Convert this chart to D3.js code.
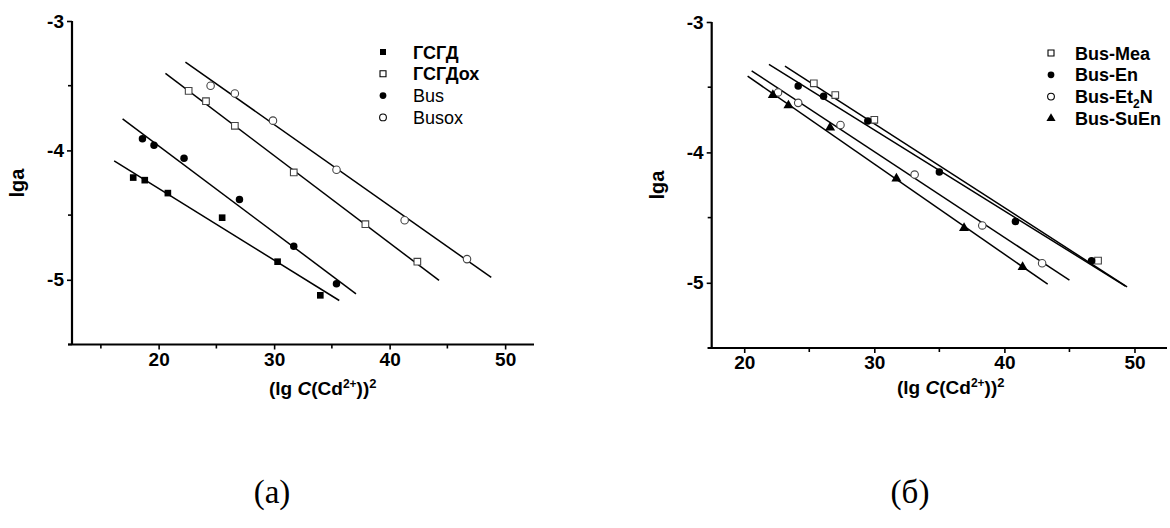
<!DOCTYPE html>
<html>
<head>
<meta charset="utf-8">
<script src="https://cdn.jsdelivr.net/npm/d3@7"></script>
<style>
  html, body { margin: 0; padding: 0; background: #fff; }
  svg { display: block; }
</style>
</head>
<body>
<svg id="chart" width="1170" height="528"></svg>
<script>
// ---- panel (а) data ----
const xGSGD   = [17.8, 18.8, 20.8, 25.5, 30.3, 34.0];
const yGSGD   = [-4.21, -4.23, -4.33, -4.52, -4.86, -5.12];
const xGSGDox = [22.6, 24.1, 26.6, 31.7, 37.9, 42.4];
const yGSGDox = [-3.54, -3.62, -3.81, -4.17, -4.57, -4.86];
const xBus    = [18.6, 19.6, 22.2, 27.0, 31.7, 35.4];
const yBus    = [-3.91, -3.96, -4.06, -4.38, -4.74, -5.03];
const xBusox  = [24.5, 26.6, 29.9, 35.4, 41.3, 46.7];
const yBusox  = [-3.50, -3.56, -3.77, -4.15, -4.54, -4.84];

// fitted straight lines, panel (а): [x0, x1] and [y0, y1]
const fitXGSGD   = [16.15, 35.64], fitYGSGD   = [-4.081, -5.160];
const fitXGSGDox = [20.59, 44.28], fitYGSGDox = [-3.404, -5.005];
const fitXBus    = [16.88, 37.09], fitYBus    = [-3.757, -5.108];
const fitXBusox  = [22.32, 48.80], fitYBusox  = [-3.317, -4.982];

// ---- panel (б) data ----
const xMea   = [25.35, 27.0, 30.0, 47.2];
const yMea   = [-3.47, -3.56, -3.75, -4.83];
const xEn    = [24.15, 26.1, 29.5, 35.0, 40.85, 46.7];
const yEn    = [-3.49, -3.57, -3.76, -4.15, -4.53, -4.83];
const xEt2N  = [22.6, 24.15, 27.4, 33.1, 38.3, 42.9];
const yEt2N  = [-3.54, -3.62, -3.79, -4.17, -4.56, -4.85];
const xSuEn  = [22.2, 23.4, 26.6, 31.7, 36.9, 41.4];
const ySuEn  = [-3.56, -3.64, -3.81, -4.20, -4.58, -4.88];

const fitXMea  = [23.13, 49.43], fitYMea  = [-3.338, -5.031];
const fitXEn   = [21.90, 49.30], fitYEn   = [-3.325, -5.025];
const fitXEt2N = [20.57, 45.00], fitYEt2N = [-3.374, -4.980];
const fitXSuEn = [20.26, 43.33], fitYSuEn = [-3.415, -5.011];

// ---- axes ----
const xMajorTicks = [20, 30, 40, 50];
const xMinorTicksA = [15, 25, 35, 45];
const xMinorTicksB = [25, 35, 45];
const yMajorTicks = [-3, -4, -5];
const yMinorTicks = [-3.5, -4.5, -5.5];

const svg = d3.select("#chart");
const FONT = '"Liberation Sans", Arial, sans-serif';

function series(name, xs, ys, fx, fy, shape, filled, bold) {
  return { name, pts: xs.map((x, i) => [x, ys[i]]), fit: [[fx[0], fy[0]], [fx[1], fy[1]]], shape, filled, bold };
}

function styleTicks(sel) {
  sel.selectAll(".tick text")
    .attr("font-family", FONT).attr("font-weight", "bold")
    .attr("font-size", 19).attr("fill", "#000");
  sel.selectAll(".tick line").attr("stroke-width", 1.6);
}

function drawPanel(cfg) {
  const g = svg.append("g");
  const x = d3.scaleLinear().domain(cfg.xDomain).range(cfg.xRange);
  const y = d3.scaleLinear().domain([-5.5, -3]).range(cfg.yRange);
  const y0 = cfg.yRange[0], x0 = cfg.xRange[0];

  // y axis
  const yAx = g.append("g").attr("transform", `translate(${x0},0)`)
    .call(d3.axisLeft(y).tickValues(yMajorTicks).tickSize(5).tickPadding(3).tickFormat(d => String(d)));
  yAx.append("g").selectAll("line").data(yMinorTicks).join("line")
    .attr("x1", -4).attr("x2", 0).attr("y1", d => y(d)).attr("y2", d => y(d))
    .attr("stroke", "#000").attr("stroke-width", 1.6);
  yAx.select(".domain").attr("d", `M0,${cfg.yRange[1]}V${y0}`).attr("stroke-width", 2.2);
  styleTicks(yAx);

  // x axis
  const xAx = g.append("g").attr("transform", `translate(0,${y0})`)
    .call(d3.axisBottom(x).tickValues(xMajorTicks).tickSize(5).tickPadding(3).tickFormat(d => String(d)));
  xAx.append("g").selectAll("line").data(cfg.xMinor).join("line")
    .attr("x1", d => x(d)).attr("x2", d => x(d)).attr("y1", 0).attr("y2", 4)
    .attr("stroke", "#000").attr("stroke-width", 1.6);
  xAx.select(".domain").attr("d", `M${x0 - 4},0H${cfg.xRange[1]}`).attr("stroke-width", 2.2);
  styleTicks(xAx);

  // axis titles
  g.append("text")
    .attr("transform", `translate(${cfg.yTitleX},${cfg.yTitleY}) rotate(-90)`)
    .attr("text-anchor", "middle").attr("font-family", FONT).attr("font-weight", "bold")
    .attr("font-size", 20).text("lga");

  const xt = g.append("text").attr("x", cfg.xTitleX).attr("y", cfg.xTitleY)
    .attr("font-family", FONT).attr("font-weight", "bold").attr("font-size", 19);
  xt.append("tspan").text("(lg ");
  xt.append("tspan").attr("font-style", "italic").text("C");
  xt.append("tspan").text("(Cd");
  xt.append("tspan").attr("dy", -7).attr("font-size", 12).text("2+");
  xt.append("tspan").attr("dy", 7).text("))");
  xt.append("tspan").attr("dy", -7).attr("font-size", 13).text("2");

  const line = d3.line().x(d => x(d[0])).y(d => y(d[1]));

  cfg.series.forEach(s => {
    g.append("path").attr("d", line(s.fit)).attr("fill", "none")
      .attr("stroke", "#000").attr("stroke-width", 1.5);
  });

  const symFor = s => s.shape === "square" ? d3.symbolSquare : s.shape === "triangle" ? d3.symbolTriangle : d3.symbolCircle;
  const sizeFor = s => s.shape === "square" ? 44 : s.shape === "triangle" ? 44 : 44;

  cfg.series.forEach(s => {
    g.append("g").selectAll("path").data(s.pts).join("path")
      .attr("transform", d => `translate(${x(d[0])},${y(d[1])})`)
      .attr("d", d3.symbol().type(symFor(s)).size(sizeFor(s)))
      .attr("fill", s.filled ? "#000" : "#fff")
      .attr("stroke", s.filled ? "none" : "#444").attr("stroke-width", 1.1);
  });

  // legend
  const lg = g.append("g").attr("transform", `translate(${cfg.legendX},${cfg.legendY})`);
  cfg.series.forEach((s, i) => {
    const row = lg.append("g").attr("transform", `translate(0,${i * 21.8})`);
    row.append("path").attr("d", d3.symbol().type(symFor(s)).size(36))
      .attr("fill", s.filled ? "#000" : "#fff")
      .attr("stroke", s.filled ? "none" : "#000").attr("stroke-width", 1.1);
    const t = row.append("text").attr("x", cfg.legendTextDx).attr("y", 6.5)
      .attr("font-family", FONT).attr("font-size", 18)
      .attr("font-weight", s.bold ? "bold" : "normal");
    if (s.name.includes("_")) {
      const [a, b] = s.name.split("_");
      t.append("tspan").text(a);
      t.append("tspan").attr("dy", 5).attr("font-size", 12).text(b[0]);
      t.append("tspan").attr("dy", -5).text(b.slice(1));
    } else {
      t.text(s.name);
    }
  });

  // panel caption
  svg.append("text").attr("x", cfg.captionX).attr("y", 503)
    .attr("text-anchor", "middle").attr("font-family", '"Liberation Serif", "Times New Roman", serif')
    .attr("font-size", 33).text(cfg.caption);
}

drawPanel({
  xDomain: [12.5, 52.5], xRange: [72, 534], yRange: [344.5, 21],
  xMinor: xMinorTicksA,
  yTitleX: 24, yTitleY: 183,
  xTitleX: 269, xTitleY: 395,
  legendX: 383, legendY: 52, legendTextDx: 30,
  caption: "(а)", captionX: 272,
  series: [
    series("ГСГД", xGSGD, yGSGD, fitXGSGD, fitYGSGD, "square", true, true),
    series("ГСГДох", xGSGDox, yGSGDox, fitXGSGDox, fitYGSGDox, "square", false, true),
    series("Bus", xBus, yBus, fitXBus, fitYBus, "circle", true, false),
    series("Busox", xBusox, yBusox, fitXBusox, fitYBusox, "circle", false, false)
  ]
});

drawPanel({
  xDomain: [17.5, 52.5], xRange: [711.7, 1167], yRange: [348, 22],
  xMinor: xMinorTicksB,
  yTitleX: 664, yTitleY: 185,
  xTitleX: 897, xTitleY: 394,
  legendX: 1051, legendY: 53, legendTextDx: 24,
  caption: "(б)", captionX: 910,
  series: [
    series("Bus-Mea", xMea, yMea, fitXMea, fitYMea, "square", false, true),
    series("Bus-En", xEn, yEn, fitXEn, fitYEn, "circle", true, true),
    series("Bus-Et_2N", xEt2N, yEt2N, fitXEt2N, fitYEt2N, "circle", false, true),
    series("Bus-SuEn", xSuEn, ySuEn, fitXSuEn, fitYSuEn, "triangle", true, true)
  ]
});
</script>
</body>
</html>
